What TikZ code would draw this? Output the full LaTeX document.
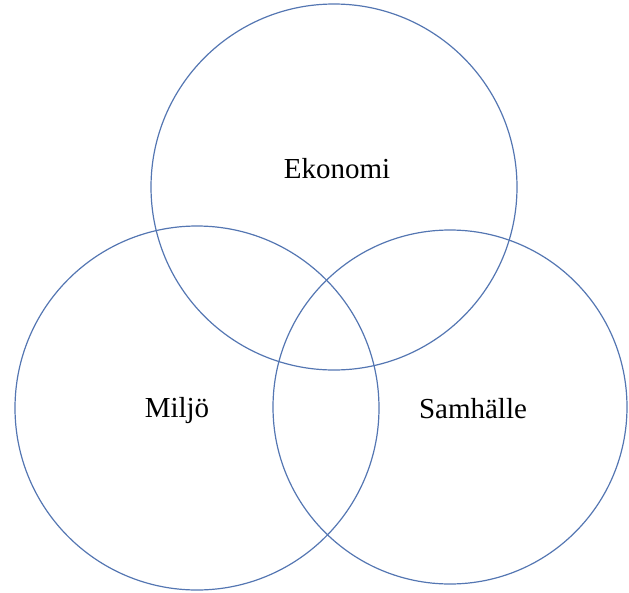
\documentclass[tikz,border=0pt]{standalone}
\usepackage{fontspec}
\setmainfont{Liberation Serif}
\definecolor{ringblue}{RGB}{84,118,178}
\begin{document}
\begin{tikzpicture}[x=1pt,y=-1pt,
  ring/.style={draw=ringblue,line width=1.2pt},
  lbl/.style={anchor=base,font=\fontsize{29}{34}\selectfont,inner sep=0pt}]
\useasboundingbox (0,0) rectangle (629,592);
\node[ring,circle,minimum size=366pt,inner sep=0pt] (eko) at (334,187) {};
\node[ring,circle,minimum size=364pt,inner sep=0pt] (mil) at (197,408) {};
\node[ring,circle,minimum size=354pt,inner sep=0pt] (sam) at (450,407) {};
\node[lbl] (tEko) at (337,178) {Ekonomi};
\node[lbl] (tMil) at (177,417) {Miljö};
\node[lbl] (tSam) at (473,418) {Samhälle};
\end{tikzpicture}
\end{document}
